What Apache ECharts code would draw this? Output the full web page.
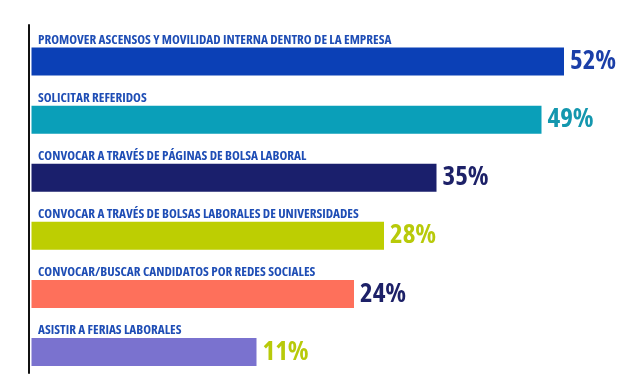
<!DOCTYPE html>
<html>
<head>
<meta charset="utf-8">
<script src="https://cdn.jsdelivr.net/npm/echarts@6/dist/echarts.min.js"></script>
<style>html,body{margin:0;padding:0;background:#fff}#c{width:620px;height:392px}</style>
</head>
<body>
<div id="c"></div>
<script>
const categories = [
  "PROMOVER ASCENSOS Y MOVILIDAD INTERNA DENTRO DE LA EMPRESA",
  "SOLICITAR REFERIDOS",
  "CONVOCAR A TRAVÉS DE PÁGINAS DE BOLSA LABORAL",
  "CONVOCAR A TRAVÉS DE BOLSAS LABORALES DE UNIVERSIDADES",
  "CONVOCAR/BUSCAR CANDIDATOS POR REDES SOCIALES",
  "ASISTIR A FERIAS LABORALES"
];
const values = [52, 49, 35, 28, 24, 11];
const barColors = ["#0B40B6", "#0A9FB9", "#1A1F6C", "#BDCE02", "#FE705B", "#7A72CF"];
const labelColors = ["#1B3FA8", "#1497AE", "#1D2168", "#B8CA0A", "#1D2168", "#B8CA0A"];

// bars in the reference start from a visual baseline offset (non-zero origin)
const OFFSET = 19;

const FONT = "'Open Sans', sans-serif";

const chart = echarts.init(document.getElementById('c'), null, {renderer: 'canvas'});
chart.setOption({
  animation: false,
  backgroundColor: '#ffffff',
  grid: [
    {left: 31.5, right: 3.5, top: 32.5, bottom: 11},
    {left: 29, right: 3, top: 25, bottom: 19}
  ],
  xAxis: [
    {type: 'value', gridIndex: 0, min: 0, max: 78, show: false},
    {type: 'value', gridIndex: 1, min: 0, max: 1, show: false}
  ],
  yAxis: [
    {type: 'category', gridIndex: 0, inverse: true, data: categories, show: false},
    {type: 'value', gridIndex: 1, min: 0, max: 1,
     axisLine: {show: true, lineStyle: {color: '#111111', width: 2}},
     axisTick: {show: false}, axisLabel: {show: false}, splitLine: {show: false}}
  ],
  series: [
    {
      type: 'bar', stack: 'a', xAxisIndex: 0, yAxisIndex: 0,
      barWidth: 28,
      data: categories.map((c, i) => ({value: OFFSET, itemStyle: {color: barColors[i]}})),
      label: {
        show: true,
        position: [6.5, -1],
        verticalAlign: 'bottom',
        align: 'left',
        formatter: p => categories[p.dataIndex],
        color: '#1E4DB5',
        fontFamily: FONT,
        fontWeight: 'bold condensed',
        fontSize: 13.2
      },
      silent: true
    },
    {
      type: 'bar', stack: 'a', xAxisIndex: 0, yAxisIndex: 0,
      barWidth: 28,
      data: values.map((v, i) => ({
        value: v,
        itemStyle: {color: barColors[i]},
        label: {color: labelColors[i]}
      })),
      label: {
        show: true,
        position: 'right',
        distance: 6,
        formatter: '{c}%',
        fontFamily: FONT,
        fontWeight: 'bold condensed',
        fontSize: 27
      }
    }
  ]
});
</script>
</body>
</html>
